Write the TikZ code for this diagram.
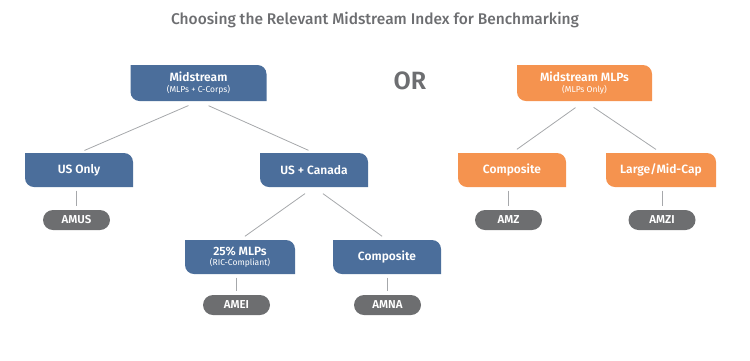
\documentclass[tikz,border=0pt]{standalone}
\usepackage{fontspec}
\setmainfont{Fira Sans}[BoldFont={Fira Sans SemiBold}]
\newfontfamily\titlefont{Fira Sans Medium}

\definecolor{midblue}{HTML}{4B6E9B}
\definecolor{mlporange}{HTML}{F5934F}
\definecolor{pillgray}{HTML}{6D6E70}
\definecolor{titlegray}{HTML}{6D6E71}
\definecolor{linkgray}{HTML}{A6A8AB}

\newcommand{\subtext}[1]{\\{\mdseries\fontsize{8.5}{8}\selectfont #1}}

\tikzset{
  catbox/.style={minimum width=108pt, minimum height=34pt, inner sep=0pt,
    align=center, text=white, font=\bfseries\fontsize{12}{10.5}\selectfont,
    path picture={\fill[#1] (path picture bounding box.north west)
      -- ([xshift=-9pt]path picture bounding box.north east)
         arc[start angle=90, end angle=0, radius=9pt]
      -- (path picture bounding box.south east)
      -- ([xshift=9pt]path picture bounding box.south west)
         arc[start angle=270, end angle=180, radius=9pt]
      -- cycle;}},
  catbox/.default=midblue,
  topbox/.style={catbox=#1, minimum width=136pt, minimum height=36pt},
  topbox/.default=midblue,
  pill/.style={fill=pillgray, text=white, rounded corners=10pt,
    minimum width=67pt, minimum height=20pt, inner sep=0pt,
    font=\bfseries\fontsize{11.5}{11.5}\selectfont},
  link/.style={draw=linkgray, line width=0.8pt, shorten <=11pt, shorten >=6pt},
  stem/.style={draw=linkgray, line width=0.8pt, shorten <=3.5pt, shorten >=4pt}
}

\begin{document}
\begin{tikzpicture}[x=1pt, y=1pt]
  \useasboundingbox (0,0) rectangle (750,-360);

  \node[text=titlegray, font=\titlefont\fontsize{15.5}{15.5}\selectfont] (title) at (375,-20)
    {Choosing the Relevant Midstream Index for Benchmarking};
  \node[text=titlegray, font=\bfseries\fontsize{25}{25}\selectfont] (or) at (410,-81) {OR};

  % midstream side
  \node[topbox] (mid) at (198.5,-83) {Midstream\subtext{(MLPs + C-Corps)}};
  \node[catbox] (usonly) at (79,-170) {US Only};
  \node[catbox] (uscan) at (314,-170) {US + Canada};
  \node[catbox, minimum width=110pt] (ric) at (240,-257) {25\% MLPs\subtext{(RIC-Compliant)}};
  \node[catbox] (compna) at (387,-257) {Composite};
  \node[pill] (amus) at (76.5,-220) {AMUS};
  \node[pill] (amei) at (236.5,-305) {AMEI};
  \node[pill] (amna) at (387.5,-305) {AMNA};

  % mlp side
  \node[topbox=mlporange, minimum width=135pt] (mlps) at (584.5,-83) {Midstream MLPs\subtext{(MLPs Only)}};
  \node[catbox=mlporange] (compmlp) at (512,-170) {Composite};
  \node[catbox=mlporange, minimum width=110pt] (largemid) at (661,-170) {Large/Mid-Cap};
  \node[pill] (amz) at (508.5,-220) {AMZ};
  \node[pill] (amzi) at (662,-220) {AMZI};

  \foreach \a/\b in {mid/usonly, mid/uscan, uscan/ric, uscan/compna, mlps/compmlp, mlps/largemid}
    \path[link] (\a.south) -- (\b.north);
  \foreach \a/\b in {usonly/amus, ric/amei, compna/amna, compmlp/amz, largemid/amzi}
    \path[stem] (\a.south -| \b.north) -- (\b.north);
\end{tikzpicture}
\end{document}
